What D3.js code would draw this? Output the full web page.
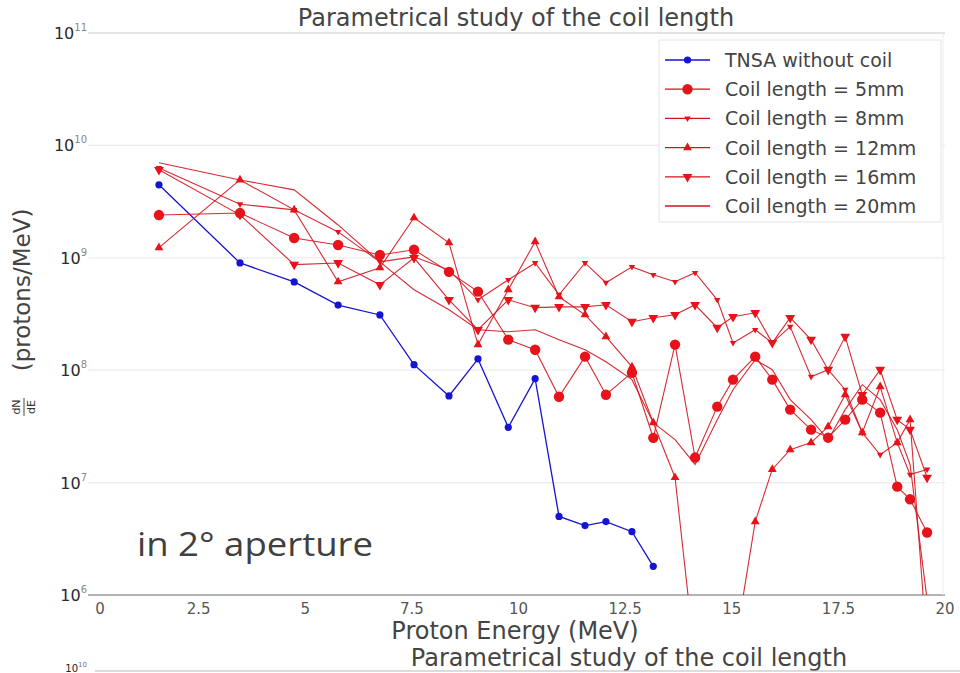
<!DOCTYPE html>
<html><head><meta charset="utf-8">
<script src="https://cdn.jsdelivr.net/npm/d3@7"></script>
<style>
body{margin:0;background:#fff;}
svg{display:block;}
text{font-family:"DejaVu Sans",sans-serif;}
</style></head>
<body>
<svg id="chart" width="960" height="673"></svg>
<script>
// ---------- data ----------
const energy = [1.57, 3.47, 4.74, 5.77, 6.75, 7.55, 8.37, 9.05, 9.76, 10.39, 10.95, 11.56, 12.05, 12.66, 13.16,
  13.67, 14.14, 14.66, 15.03, 15.55, 15.95, 16.37, 16.86, 17.26, 17.66, 18.06, 18.48, 18.88, 19.18, 19.58];

const tnsa = [4.46e9, 9.0e8, 6.1e8, 3.8e8, 3.1e8, 1.12e8, 5.9e7, 1.26e8, 3.1e7, 8.4e7, 5.0e6, 4.15e6, 4.5e6, 3.66e6, 1.8e6];

const coil5 = [2.4e9, 2.5e9, 1.5e9, 1.3e9, 1.06e9, 1.18e9, 7.5e8, 5.0e8, 1.87e8, 1.52e8, 5.8e7, 1.32e8, 6.05e7, 9.5e7, 2.5e7,
  1.69e8, 1.67e7, 4.74e7, 8.24e7, 1.32e8, 8.24e7, 4.46e7, 2.96e7, 2.51e7, 3.63e7, 5.47e7, 4.19e7, 9.2e6, 7.1e6, 3.6e6];
const coil8 = [6.3e9, 3.0e9, 2.67e9, 1.7e9, 9.2e8, 1.02e9, 7.8e8, 4.23e8, 6.37e8, 9.0e8, 4.69e8, 9.0e8, 6.0e8, 8.3e8, 7.06e8,
  6.12e8, 7.36e8, 4.23e8, 1.75e8, 2.29e8, 1.75e8, 2.44e8, 8.75e7, 1.01e8, 6.71e7, 2.78e7, 1.77e7, 2.27e7, 1.18e7, 1.31e7];
const coil12 = [1.23e9, 4.93e9, 2.67e9, 6.12e8, 8.15e8, 2.27e9, 1.36e9, 1.69e8, 5.2e8, 1.39e9, 4.5e8, 3.11e8, 1.99e8, 1.07e8, 3.41e7,
  1.11e7, 2.7e5, 1.8e5, 2.7e5, 4.5e6, 1.31e7, 1.96e7, 2.27e7, 3.15e7, 6.05e7, 2.78e7, 7.13e7, 2.27e7, 3.63e7, 3.3e5];
const coil16 = [6.06e9, 2.41e9, 8.7e8, 9.0e8, 5.75e8, 1.0e9, 4.23e8, 2.29e8, 4.23e8, 3.6e8, 3.66e8, 3.66e8, 3.82e8, 2.7e8, 2.93e8,
  3.11e8, 3.82e8, 2.39e8, 2.99e8, 3.24e8, 1.75e8, 2.93e8, 1.87e8, 1.01e8, 1.99e8, 6.05e7, 1.01e8, 3.63e7, 2.96e7, 1.11e7];
const coil20 = [7.0e9, 4.93e9, 4.02e9, 1.96e9, 9.2e8, 5.2e8, 3.45e8, 2.29e8, 2.2e8, 2.29e8, 1.87e8, 1.52e8, 1.19e8, 8.24e7, 3.41e7,
  2.41e7, 1.45e7, 3.63e7, 6.71e7, 1.24e8, 1.01e8, 5.47e7, 3.63e7, 2.41e7, 4.46e7, 7.43e7, 5.47e7, 2.96e7, 1.45e7, 9.1e5];

const seriesNames = ["TNSA without coil", "Coil length = 5mm", "Coil length = 8mm", "Coil length = 12mm", "Coil length = 16mm", "Coil length = 20mm"];
const seriesMarkers = ["circle", "bigcircle", "smalltri", "triup", "tridown", "none"];
const xTicks = [0, 2.5, 5, 7.5, 10, 12.5, 15, 17.5, 20];
const xTickLabels = ["0", "2.5", "5", "7.5", "10", "12.5", "15", "17.5", "20"];
const yTickExps = [6, 7, 8, 9, 10, 11];
const title = "Parametrical study of the coil length";
const xLabel = "Proton Energy (MeV)";
const yLabel = "(protons/MeV)";
const note = "in 2\u00B0 aperture";

// ---------- drawing ----------
const svg = d3.select("#chart");
const L = 92, R = 945, T = 33, B = 595;
const x = d3.scaleLinear().domain([0, 20]).range([L, R]);
const y = d3.scaleLog().domain([1e6, 1e11]).range([B, T]);

const blue = "#1414d2", red = "#e8121a", redLine = "#d2141e";

svg.append("defs").append("clipPath").attr("id", "clip")
  .append("rect").attr("x", L - 8).attr("y", T - 8).attr("width", R - L + 16).attr("height", B - T + 8);

// grid lines
svg.append("g").selectAll("line").data(yTickExps).join("line")
  .attr("x1", L - 4).attr("x2", R).attr("y1", d => y(Math.pow(10, d))).attr("y2", d => y(Math.pow(10, d)))
  .attr("stroke", d => (d === 6 ? "#9a9a9a" : d === 11 ? "#c8c8c8" : "#ececec")).attr("stroke-width", d => (d === 6 ? 1.4 : 1.2));
// right frame
svg.append("line").attr("x1", R - 2).attr("x2", R - 2).attr("y1", T).attr("y2", B).attr("stroke", "#eeeeee");

// y tick labels
const yt = svg.append("g");
yTickExps.forEach(e => {
  const t = yt.append("text").attr("x", 87).attr("y", y(Math.pow(10, e)) + 6).attr("text-anchor", "end")
    .attr("font-size", 16).attr("fill", "#2a2a2a");
  t.append("tspan").text("10");
  t.append("tspan").attr("dy", -8).attr("font-size", 10).attr("fill", "#888").text(e);
});

// x tick labels
svg.append("g").selectAll("text").data(xTicks).join("text")
  .attr("x", d => x(d) + (d === 0 ? 8 : 0)).attr("y", 614).attr("text-anchor", "middle")
  .attr("font-size", 15).attr("fill", "#555").text((d, i) => xTickLabels[i]);

// titles
svg.append("text").attr("x", 516).attr("y", 26).attr("text-anchor", "middle").attr("font-size", 24).attr("fill", "#444").text(title);
svg.append("text").attr("x", 515).attr("y", 639).attr("text-anchor", "middle").attr("font-size", 24).attr("fill", "#444").text(xLabel);
// y label
const yl = svg.append("g").attr("transform", "translate(30,290) rotate(-90)");
yl.append("text").attr("x", 0).attr("y", 0).attr("text-anchor", "middle").attr("font-size", 23).attr("fill", "#444").text(yLabel);
yl.append("text").attr("x", -117).attr("y", -10).attr("text-anchor", "middle").attr("font-size", 11).attr("fill", "#333").text("dN");
yl.append("line").attr("x1", -126).attr("x2", -108).attr("y1", -6).attr("y2", -6).attr("stroke", "#333").attr("stroke-width", 0.9);
yl.append("text").attr("x", -117).attr("y", 5).attr("text-anchor", "middle").attr("font-size", 11).attr("fill", "#333").text("dE");

// annotation
svg.append("text").attr("x", 137).attr("y", 556).attr("font-size", 32).attr("fill", "#404040")
  .style("font-family", "'Open Sans', sans-serif").attr("textLength", 236).attr("lengthAdjust", "spacingAndGlyphs").text(note);

// lines + markers
const plot = svg.append("g").attr("clip-path", "url(#clip)");
const allSeries = [tnsa, coil5, coil8, coil12, coil16, coil20];
const line = d3.line().x(d => x(d[0])).y(d => y(d[1]));

function drawMarker(g, type, cx, cy, color) {
  if (type === "circle") g.append("circle").attr("cx", cx).attr("cy", cy).attr("r", 3.6).attr("fill", color);
  else if (type === "bigcircle") g.append("circle").attr("cx", cx).attr("cy", cy).attr("r", 5.2).attr("fill", color);
  else if (type === "triup") g.append("path").attr("d", d3.symbol(d3.symbolTriangle, 34)()).attr("transform", `translate(${cx},${cy})`).attr("fill", color);
  else if (type === "tridown") g.append("path").attr("d", d3.symbol(d3.symbolTriangle, 42)()).attr("transform", `translate(${cx},${cy}) rotate(180)`).attr("fill", color);
  else if (type === "smalltri") g.append("path").attr("d", d3.symbol(d3.symbolTriangle, 18)()).attr("transform", `translate(${cx},${cy}) rotate(180)`).attr("fill", color);
}

allSeries.forEach((vals, si) => {
  const pts = vals.map((v, i) => [energy[i], v]);
  const col = si === 0 ? blue : redLine;
  plot.append("path").attr("d", line(pts)).attr("fill", "none").attr("stroke", col)
    .attr("stroke-width", si === 0 ? 1.3 : 1.1).attr("stroke-opacity", si === 0 ? 1 : 0.9);
});
allSeries.forEach((vals, si) => {
  const g = plot.append("g");
  vals.forEach((v, i) => {
    if (v < 1e6) return;
    drawMarker(g, seriesMarkers[si], x(energy[i]), y(v), si === 0 ? blue : red);
  });
});

// legend
const lg = svg.append("g");
lg.append("rect").attr("x", 659).attr("y", 40).attr("width", 282).attr("height", 182).attr("fill", "#fff").attr("stroke", "#e4e4e4");
seriesNames.forEach((name, i) => {
  const ly = 60 + i * 29.2;
  const col = i === 0 ? blue : redLine;
  lg.append("line").attr("x1", 665).attr("x2", 710).attr("y1", ly).attr("y2", ly).attr("stroke", col).attr("stroke-width", 1.3);
  drawMarker(lg, seriesMarkers[i], 687.5, ly, i === 0 ? blue : red);
  lg.append("text").attr("x", 725).attr("y", ly + 7).attr("font-size", 19).attr("fill", "#444").text(name);
});

// cropped second chart at the bottom
svg.append("text").attr("x", 629).attr("y", 666).attr("text-anchor", "middle").attr("font-size", 24).attr("fill", "#444").text(title);
svg.append("line").attr("x1", 95).attr("x2", 960).attr("y1", 671).attr("y2", 671).attr("stroke", "#bbbbbb");
const bt = svg.append("text").attr("x", 87).attr("y", 672).attr("text-anchor", "end").attr("font-size", 10).attr("fill", "#222");
bt.append("tspan").text("10");
bt.append("tspan").attr("dy", -5).attr("font-size", 7).attr("fill", "#777").text("10");
</script>
</body></html>
